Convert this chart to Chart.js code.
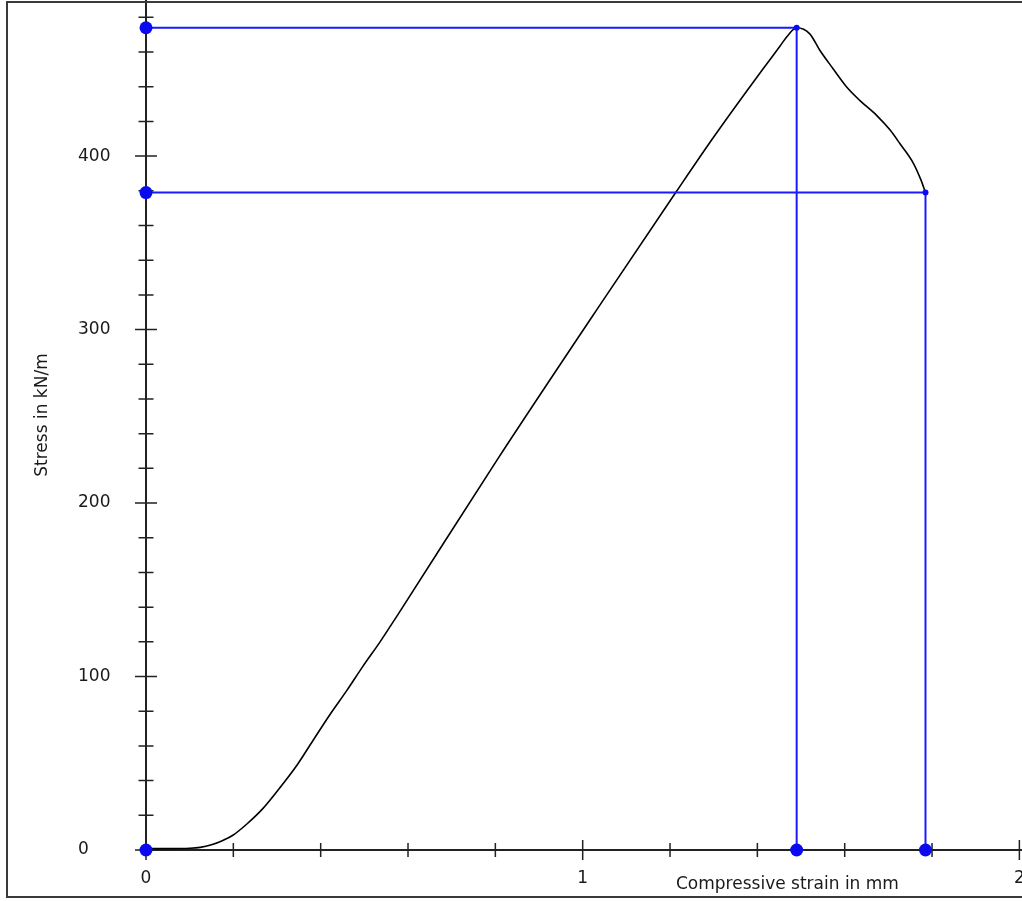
<!DOCTYPE html>
<html>
<head>
<meta charset="utf-8">
<title>Stress vs compressive strain</title>
<script src="https://cdn.jsdelivr.net/npm/chart.js@4.4.0/dist/chart.umd.min.js"></script>
<style>
  html, body { margin: 0; padding: 0; background: #fff; overflow: hidden; }
  #wrap { position: relative; width: 1022px; height: 901px; overflow: hidden; }
  #chart { position: absolute; left: 0; top: 0; }
  #frame {
    position: absolute; left: 6px; top: 1px; width: 1100px; height: 897px;
    box-sizing: border-box; border: 2px solid #3a3a3a; pointer-events: none;
  }
  .axis-title {
    position: absolute; font: 17px "DejaVu Sans", sans-serif; color: #1a1a1a;
    white-space: nowrap; line-height: 20px;
  }
  #xTitle { left: 676px; top: 873px; }
  #yTitle { left: 41px; top: 415px; transform: translate(-50%, -50%) rotate(-90deg); }
</style>
</head>
<body>
<div id="wrap">
  <canvas id="chart" width="1022" height="901"></canvas>
  <div id="frame"></div>
  <div class="axis-title" id="xTitle">Compressive strain in mm</div>
  <div class="axis-title" id="yTitle">Stress in kN/m</div>
</div>
<script>
"use strict";

/* ── data ──────────────────────────────────────────────────────────────── */
const strain = [0, 0.05, 0.10, 0.124, 0.15, 0.176, 0.199, 0.231, 0.268, 0.307,
                0.346, 0.382, 0.421, 0.46, 0.497, 0.536, 0.575, 0.803, 1.047,
                1.213, 1.30, 1.38, 1.43, 1.452, 1.468, 1.49,
                1.52, 1.543, 1.573, 1.604, 1.635, 1.673, 1.704, 1.727, 1.757, 1.775, 1.785];
const stress = [0.8, 0.8, 1, 1.5, 3, 5.5, 8.5, 15, 24, 36,
                49, 63, 78, 92, 106, 120, 135, 224.5, 317,
                379, 411, 439, 456, 463.5, 469, 474,
                470.5, 461, 450.5, 440, 432, 423.5, 415, 407, 396, 386, 379];

const peakStrain = 1.49,  peakStress = 474;   // maximum stress
const failStrain = 1.785, failStress = 379;   // end of test

const xLabelValues = [0, 1, 2];
const yLabelValues = [0, 100, 200, 300, 400];

/* ── styling ───────────────────────────────────────────────────────────── */
const AXIS = "#222";
const BLUE = "#1a1aff";
const DOT  = "#0a0af0";
const FONT = { family: "'DejaVu Sans', sans-serif", size: 17 };

/* ── crossing tick marks (major / minor), drawn from the scales' ticks ── */
const crossTicks = {
  id: "crossTicks",
  beforeDatasetsDraw(chart) {
    const { ctx } = chart;
    const xs = chart.scales.x, ys = chart.scales.y;
    const x0 = xs.getPixelForValue(0), y0 = ys.getPixelForValue(0);
    ctx.save();
    ctx.strokeStyle = AXIS;
    ctx.lineWidth = 1.5;
    ctx.beginPath();
    ys.ticks.forEach(t => {
      const y = ys.getPixelForValue(t.value);
      const h = yLabelValues.includes(t.value) ? 11 : 7.5;
      ctx.moveTo(x0 - h, y); ctx.lineTo(x0 + h, y);
    });
    xs.ticks.forEach(t => {
      const x = xs.getPixelForValue(t.value);
      const h = Math.abs(t.value - Math.round(t.value)) < 1e-6 ? 10 : 7;
      ctx.moveTo(x, y0 - h); ctx.lineTo(x, y0 + h);
    });
    ctx.stroke();
    ctx.restore();
  }
};

const curve = strain.map((x, i) => ({ x, y: stress[i] }));
const peakGuide = [{ x: 0, y: peakStress }, { x: peakStrain, y: peakStress }, { x: peakStrain, y: 0 }];
const failGuide = [{ x: 0, y: failStress }, { x: failStrain, y: failStress }, { x: failStrain, y: 0 }];
const axisDots  = [{ x: 0, y: peakStress }, { x: 0, y: failStress }, { x: 0, y: 0 },
                   { x: peakStrain, y: 0 }, { x: failStrain, y: 0 }];
const cornerDots = [{ x: peakStrain, y: peakStress }, { x: failStrain, y: failStress }];

new Chart(document.getElementById("chart"), {
  type: "scatter",
  data: {
    datasets: [
      { data: axisDots, pointRadius: 6.5, pointBackgroundColor: DOT, pointBorderWidth: 0,
        showLine: false, clip: false },
      { data: cornerDots, pointRadius: 3, pointBackgroundColor: DOT, pointBorderWidth: 0,
        showLine: false, clip: false },
      { data: peakGuide, showLine: true, borderColor: BLUE, borderWidth: 2, pointRadius: 0, tension: 0 },
      { data: failGuide, showLine: true, borderColor: BLUE, borderWidth: 2, pointRadius: 0, tension: 0 },
      { data: curve, showLine: true, borderColor: "#000", borderWidth: 1.6, pointRadius: 0,
        cubicInterpolationMode: "monotone" },
    ],
  },
  options: {
    responsive: false,
    devicePixelRatio: 1,
    animation: false,
    layout: { autoPadding: false, padding: { left: 78, top: 0, right: 0, bottom: 0 } },
    plugins: { legend: { display: false }, tooltip: { enabled: false } },
    scales: {
      x: {
        type: "linear", min: 0, max: 2.006,
        grid: { display: true, drawOnChartArea: false, drawTicks: false },
        border: { display: true, color: AXIS, width: 2 },
        ticks: {
          stepSize: 0.2, includeBounds: false, autoSkip: false, maxRotation: 0,
          padding: 18, color: "#1a1a1a", font: FONT,
          callback: v => xLabelValues.some(l => Math.abs(l - v) < 1e-6) ? String(Math.round(v)) : "",
        },
        afterFit: s => { s.height = 51; s.paddingLeft = 0; s.paddingRight = 0; },
      },
      y: {
        type: "linear", min: 0, max: 490,
        grid: { display: true, drawOnChartArea: false, drawTicks: false },
        border: { display: true, color: AXIS, width: 2 },
        ticks: {
          stepSize: 20, includeBounds: false, autoSkip: false,
          crossAlign: "far", padding: 0, color: "#1a1a1a", font: FONT,
          callback: v => yLabelValues.includes(v) ? String(v) : "",
        },
        afterFit: s => { s.width = 68; s.paddingTop = 0; s.paddingBottom = 0; },
      },
    },
  },
  plugins: [crossTicks],
});
</script>
</body>
</html>
